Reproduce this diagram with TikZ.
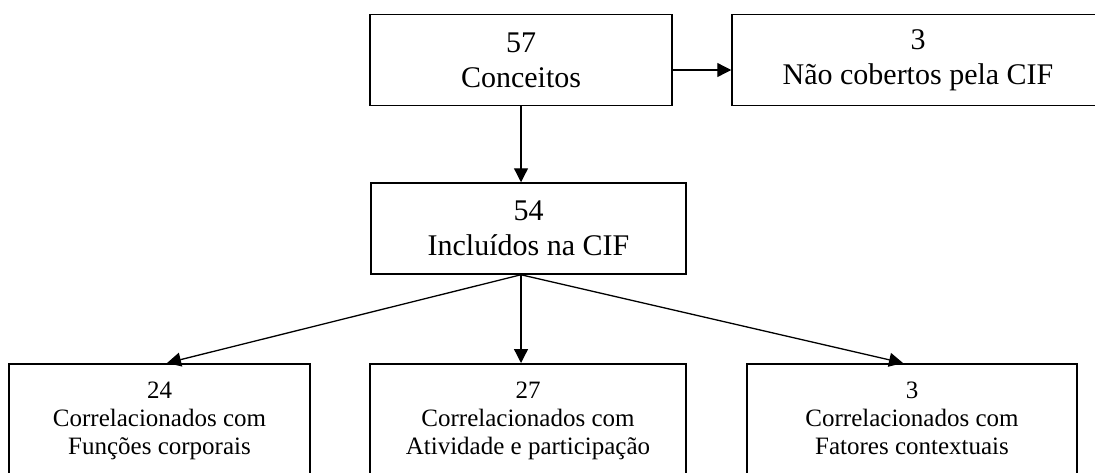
\documentclass[tikz,border=0pt]{standalone}
\usepackage{fontspec}
\setmainfont{Liberation Serif}
\usetikzlibrary{arrows.meta}
\begin{document}
\begin{tikzpicture}[x=0.5pt, y=-0.5pt,
    concept/.style ={rectangle, draw, line width=0.75pt, align=center, inner sep=0pt,
      minimum height=45.5pt, font=\fontsize{15}{17.5}\selectfont},
    correlation/.style ={rectangle, draw, line width=0.75pt, align=center, inner sep=0pt,
      anchor=north, minimum height=65pt, text depth=11pt, font=\fontsize{12.5}{14}\selectfont},
    link/.style ={line width=0.65pt, -{Triangle[length=7pt, width=7pt]}}]
   \useasboundingbox (0,0) rectangle (1095,472);
   \node[concept, minimum width=151pt] (A) at (521,60) {57\\Conceitos};
   \node[concept, minimum width=186pt] (B) at (918,60) {3\\Não cobertos pela CIF};
   \node[concept, minimum width=157.5pt] (C) at (528.5,228.5) {54\\Incluídos na CIF};
   \node[correlation, minimum width=150.5pt] (D) at (159.5,363) {24\\Correlacionados com\\Funções corporais};
   \node[correlation, minimum width=158pt] (E) at (528,363) {27\\Correlacionados com\\Atividade e participação};
   \node[correlation, minimum width=165pt] (F) at (912,363) {3\\Correlacionados com\\Fatores contextuais};
   \draw[link] ([yshift=-5pt]A.east) to ([yshift=-5pt]B.west);
   \draw[link] (A.south) to ([xshift=-3.75pt]C.north);
   \draw[link] ([xshift=-3.75pt]C.south) to ([xshift=3.75pt]D.north);
   \draw[link] ([xshift=-3.75pt]C.south) to ([xshift=-3.5pt]E.north);
   \draw[link] ([xshift=-3.75pt]C.south) to ([xshift=-4.5pt]F.north);
\end{tikzpicture}
\end{document}
